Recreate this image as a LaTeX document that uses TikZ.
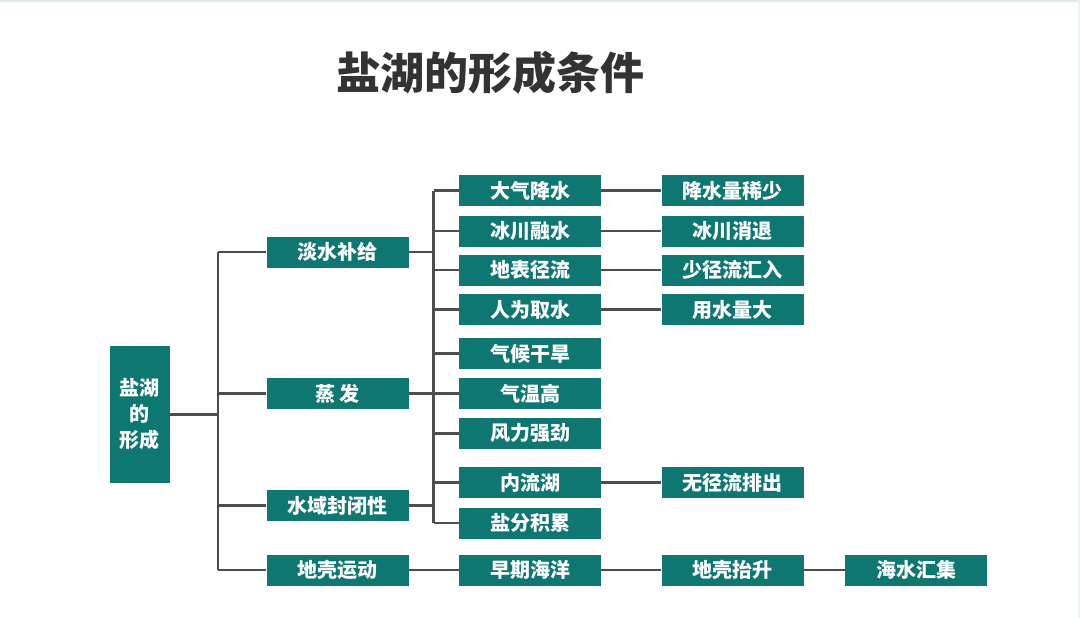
\documentclass[tikz,border=0pt]{standalone}
\usepackage{fontspec}
\newfontfamily\cjk{Noto Sans CJK SC}
\definecolor{boxteal}{HTML}{0F7772}
\definecolor{linegray}{HTML}{4D4D4D}
\definecolor{titlegray}{HTML}{333333}
\definecolor{stripcol}{HTML}{DDE9E7}
\tikzset{
  boxnode/.style={fill=boxteal, minimum width=142pt, minimum height=31pt, inner sep=0pt,
    text=white, font=\cjk\bfseries\fontsize{20}{24}\selectfont},
  conn/.style={draw=linegray, line width=2.2pt},
}
\begin{document}
\begin{tikzpicture}[x=1pt,y=-1pt]
\useasboundingbox (0,0) rectangle (1080,618);
\fill[white] (0,0) rectangle (1080,618);
\fill[stripcol] (0,0) rectangle (1080,2.5);
\fill[stripcol!60] (1078,0) rectangle (1080,618);

\node[font=\cjk\bfseries\fontsize{44}{50}\selectfont, text=titlegray] (title) at (490,73) {盐湖的形成条件};

\node[boxnode, minimum width=60pt, minimum height=137pt, align=center, font=\cjk\bfseries\fontsize{20}{26}\selectfont] (root) at (139.5,414.5) {盐湖\\的\\形成};

\node[boxnode] (d1) at (337.5,252) {淡水补给};
\node[boxnode] (d2) at (337.5,393.5) {蒸 发};
\node[boxnode] (d3) at (337.5,505.5) {水域封闭性};
\node[boxnode] (d4) at (337.5,570) {地壳运动};

\node[boxnode] (e1) at (530,190.5) {大气降水};
\node[boxnode] (e2) at (530,231) {冰川融水};
\node[boxnode] (e3) at (530,270) {地表径流};
\node[boxnode] (e4) at (530,309.5) {人为取水};
\node[boxnode] (e5) at (530,353.5) {气候干旱};
\node[boxnode] (e6) at (530,393.5) {气温高};
\node[boxnode] (e7) at (530,433.5) {风力强劲};
\node[boxnode] (e8) at (530,482.5) {内流湖};
\node[boxnode] (e9) at (530,523) {盐分积累};
\node[boxnode] (e10) at (530,570) {早期海洋};

\node[boxnode] (f1) at (732.5,190.5) {降水量稀少};
\node[boxnode] (f2) at (732.5,231) {冰川消退};
\node[boxnode] (f3) at (732.5,270) {少径流汇入};
\node[boxnode] (f4) at (732.5,309.5) {用水量大};
\node[boxnode] (f8) at (732.5,482.5) {无径流排出};
\node[boxnode] (f10) at (732.5,570) {地壳抬升};
\node[boxnode] (g10) at (916,570) {海水汇集};

\coordinate (t) at (218,0);
\coordinate (v) at (433.5,0);

% trunk
\draw[conn] (root.east) -- (root.east -| t);
\draw[conn] (d1.west -| t) -- (d4.west -| t);
\foreach \n in {d1,d2,d3,d4} {
  \draw[conn] (\n.west) -- (\n.west -| t);
}
% second spine
\draw[conn] (e1.west -| v) -- (e9.west -| v);
\foreach \n in {d1,d2,d3} {
  \draw[conn] (\n.east) -- (\n.east -| v);
}
\foreach \n in {e1,e2,e3,e4,e5,e6,e7,e8,e9} {
  \draw[conn] (\n.west) -- (\n.west -| v);
}
% third level
\draw[conn] (e1.east) -- (f1.west);
\draw[conn] (e2.east) -- (f2.west);
\draw[conn] (e3.east) -- (f3.west);
\draw[conn] (e4.east) -- (f4.west);
\draw[conn] (e8.east) -- (f8.west);
\draw[conn] (d4.east) -- (e10.west);
\draw[conn] (e10.east) -- (f10.west);
\draw[conn] (f10.east) -- (g10.west);
\end{tikzpicture}
\end{document}
